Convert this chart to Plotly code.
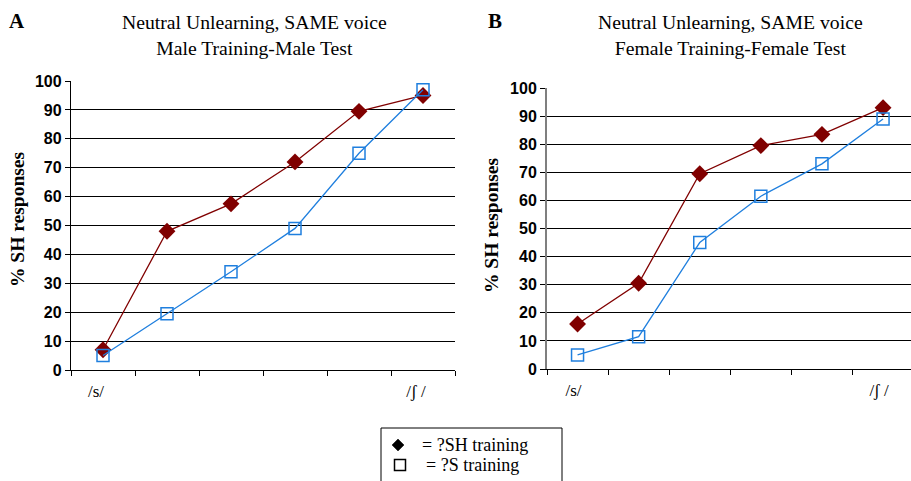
import plotly.graph_objects as go

# Continuum steps from /s/ to /ʃ/
steps = [1, 2, 3, 4, 5, 6]
step_labels = ["/s/", "/ʃ /"]

# Panel A: male training, male test (% SH responses)
male_sh_training = [7, 48, 57.5, 72, 89.5, 95]
male_s_training = [5, 19.5, 34, 49, 75, 97]

# Panel B: female training, female test (% SH responses)
female_sh_training = [16, 30.5, 69.5, 79.5, 83.5, 93]
female_s_training = [5, 11.5, 45, 61.5, 73, 89]

legend_labels = ["= ?SH training", "= ?S training"]

y_ticks = list(range(0, 101, 10))

RED = "#800000"
BLUE = "#1f7fde"
W, H = 911, 481

def px_x(p):
    return p / W

def px_y(p):
    return 1 - p / H

fig = go.Figure()

panels = [
    ("x", "y", male_sh_training, male_s_training),
    ("x2", "y2", female_sh_training, female_s_training),
]
for xa, ya, sh, s in panels:
    fig.add_trace(go.Scatter(
        x=steps, y=sh, xaxis=xa, yaxis=ya, mode="lines+markers",
        line=dict(color=RED, width=1.3),
        marker=dict(symbol="diamond", size=13, color=RED),
        showlegend=False, cliponaxis=False,
    ))
    fig.add_trace(go.Scatter(
        x=steps, y=s, xaxis=xa, yaxis=ya, mode="lines+markers",
        line=dict(color=BLUE, width=1.3),
        marker=dict(symbol="square-open", size=12, color=BLUE,
                    line=dict(color=BLUE, width=1.5)),
        showlegend=False, cliponaxis=False,
    ))

tick_font = dict(family="Liberation Sans", size=16, color="black", weight="bold")
cat_font = dict(family="Liberation Serif", size=17, color="black")

def x_axis(domain, rng, shift):
    return dict(
        domain=domain, range=rng, showgrid=False, zeroline=False, automargin=False,
        showline=True, linecolor="black", linewidth=1.3,
        tickvals=[steps[0], steps[-1]], ticktext=step_labels,
        ticks="", tickfont=cat_font, ticklabelshift=shift,
        ticklabelstandoff=5,
        minor=dict(tickvals=[v + 0.5 for v in [0] + steps], ticks="outside",
                   ticklen=5, tickcolor="black", tickwidth=1.3, showgrid=False),
    )

def y_axis(domain, anchor, linecolor, linewidth):
    return dict(
        domain=domain, range=[0, 100], anchor=anchor, automargin=False,
        tickvals=y_ticks, ticks="outside", ticklen=5, tickcolor="black",
        tickwidth=1.3, tickfont=tick_font,
        showgrid=True, gridcolor="black", gridwidth=1.4,
        zeroline=False, showline=True, linecolor=linecolor, linewidth=linewidth,
    )

fig.update_layout(
    width=W, height=H, margin=dict(l=0, r=0, t=0, b=0, autoexpand=False),
    paper_bgcolor="white", plot_bgcolor="white",
    xaxis=dict(**x_axis([px_x(71), px_x(455)], [0.5, 6.5], -7), anchor="y"),
    yaxis=y_axis([px_y(370), px_y(81)], "x", "black", 1.3),
    xaxis2=dict(**x_axis([px_x(547), 1.0], [0.5, 0.5 + 364 / 61.1], -4), anchor="y2"),
    yaxis2=y_axis([px_y(369), px_y(88)], "x2", "#7f7f7f", 2),
    showlegend=False,
)

title_font = dict(family="Liberation Serif", size=19.7, color="black")
panel_font = dict(family="Liberation Serif", size=21, color="black", weight="bold")
ytitle_font = dict(family="Liberation Serif", size=19.5, color="black", weight="bold")
legend_font = dict(family="Liberation Serif", size=18, color="black")

annotations = [
    dict(text="Neutral Unlearning, SAME voice<br>Male Training-Male Test",
         x=px_x(254), y=px_y(35), font=title_font),
    dict(text="Neutral Unlearning, SAME voice<br>Female Training-Female Test",
         x=px_x(730), y=px_y(35), font=title_font),
    dict(text="A", x=px_x(17), y=px_y(21), font=panel_font),
    dict(text="B", x=px_x(495), y=px_y(21), font=panel_font),
    dict(text="% SH responses", x=px_x(17), y=px_y(220), textangle=-90, font=ytitle_font),
    dict(text="% SH responses", x=px_x(491), y=px_y(226), textangle=-90, font=ytitle_font),
    dict(text=legend_labels[0], x=px_x(420), y=px_y(445), xanchor="left", font=legend_font),
    dict(text=legend_labels[1], x=px_x(424), y=px_y(465), xanchor="left", font=legend_font),
]
for a in annotations:
    a.setdefault("xanchor", "center")
    fig.add_annotation(xref="paper", yref="paper", yanchor="middle",
                       showarrow=False, **a)

# Key box below the panels, open at the bottom edge of the figure
fig.add_shape(type="rect", xref="paper", yref="paper",
              x0=px_x(381), x1=px_x(562), y0=px_y(490), y1=px_y(428),
              line=dict(color="black", width=1), fillcolor="white", layer="below")
# Key symbols: filled diamond and open square
fig.add_shape(type="path", xref="paper", yref="paper",
              xsizemode="pixel", ysizemode="pixel",
              xanchor=px_x(398), yanchor=px_y(445),
              path="M 0 6 L 6 0 L 0 -6 L -6 0 Z",
              fillcolor="black", line=dict(color="black", width=0.5))
fig.add_shape(type="rect", xref="paper", yref="paper",
              xsizemode="pixel", ysizemode="pixel",
              xanchor=px_x(400), yanchor=px_y(465),
              x0=-5.5, x1=5.5, y0=-5.5, y1=5.5,
              line=dict(color="black", width=1.5))

fig.write_html("out.html")
